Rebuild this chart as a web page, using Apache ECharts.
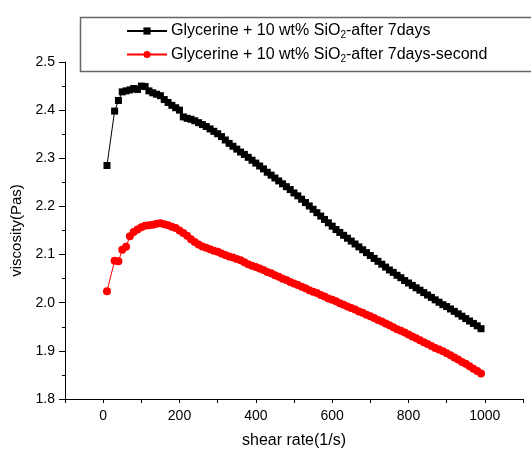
<!DOCTYPE html>
<html>
<head>
<meta charset="utf-8">
<script src="https://cdn.jsdelivr.net/npm/echarts@6/dist/echarts.min.js"></script>
<style>
  html, body { margin: 0; padding: 0; background: #fff; }
  #chart { width: 531px; height: 450px; }
</style>
</head>
<body>
<div id="chart"></div>
<script>
// shear rate (1/s)
const shearRate = [10, 30, 40, 50, 60, 70, 80, 90, 100, 110, 120, 130, 140, 150, 160, 170, 180, 190, 200,
  210, 220, 230, 240, 250, 260, 270, 280, 290, 300, 310, 320, 330, 340, 350, 360, 370, 380, 390, 400,
  410, 420, 430, 440, 450, 460, 470, 480, 490, 500, 510, 520, 530, 540, 550, 560, 570, 580, 590, 600,
  610, 620, 630, 640, 650, 660, 670, 680, 690, 700, 710, 720, 730, 740, 750, 760, 770, 780, 790, 800,
  810, 820, 830, 840, 850, 860, 870, 880, 890, 900, 910, 920, 930, 940, 950, 960, 970, 980, 990]

// viscosity (Pas) - after 7days
const visc7days = [2.285, 2.398, 2.420, 2.438, 2.440, 2.442, 2.445, 2.443, 2.450, 2.449, 2.440, 2.436, 2.433, 2.430, 2.422, 2.416, 2.410, 2.405, 2.400,
  2.386, 2.383, 2.381, 2.378, 2.374, 2.370, 2.366, 2.361, 2.356, 2.351, 2.345, 2.338, 2.331, 2.325, 2.319, 2.313, 2.308, 2.302, 2.296, 2.290,
  2.284, 2.278, 2.271, 2.265, 2.259, 2.253, 2.247, 2.241, 2.235, 2.228, 2.222, 2.215, 2.208, 2.201, 2.194, 2.187, 2.180, 2.173, 2.166, 2.159,
  2.152, 2.146, 2.140, 2.134, 2.128, 2.122, 2.116, 2.110, 2.104, 2.098, 2.092, 2.086, 2.080, 2.074, 2.068, 2.063, 2.057, 2.052, 2.046, 2.041,
  2.036, 2.031, 2.026, 2.021, 2.016, 2.011, 2.006, 2.001, 1.996, 1.992, 1.987, 1.982, 1.977, 1.972, 1.967, 1.962, 1.957, 1.952, 1.946]

// viscosity (Pas) - after 7days, second run
const visc7daysSecond = [2.024, 2.087, 2.086, 2.110, 2.116, 2.138, 2.147, 2.152, 2.157, 2.160, 2.161, 2.162, 2.164, 2.165, 2.163, 2.161, 2.158, 2.155, 2.150,
  2.145, 2.139, 2.132, 2.126, 2.121, 2.117, 2.114, 2.111, 2.108, 2.106, 2.102, 2.099, 2.096, 2.094, 2.091, 2.088, 2.084, 2.080, 2.077, 2.074,
  2.071, 2.068, 2.064, 2.061, 2.057, 2.054, 2.050, 2.047, 2.043, 2.040, 2.037, 2.033, 2.030, 2.026, 2.023, 2.020, 2.016, 2.013, 2.009, 2.006,
  2.003, 1.999, 1.996, 1.992, 1.989, 1.986, 1.982, 1.979, 1.975, 1.972, 1.968, 1.964, 1.961, 1.957, 1.953, 1.949, 1.945, 1.942, 1.938, 1.934,
  1.930, 1.926, 1.922, 1.918, 1.914, 1.910, 1.906, 1.903, 1.899, 1.895, 1.891, 1.886, 1.882, 1.877, 1.873, 1.868, 1.863, 1.858, 1.853]

const seriesNames = ['Glycerine + 10 wt% SiO2-after 7days', 'Glycerine + 10 wt% SiO2-after 7days-second']

const font = '"Liberation Sans", Arial, sans-serif'
const pair = (xs, ys) => xs.map((x, i) => [x, ys[i]])

let myChart = echarts.init(document.getElementById('chart'))

myChart.setOption({
  animation: false,
  backgroundColor: '#fff',
  textStyle: { fontFamily: font },
  grid: { left: 65, right: 8, top: 62, bottom: 51, outerBoundsMode: 'none', containLabel: false },
  graphic: [{
    type: 'rect', left: 78, top: 15, z: 100,
    shape: { width: 470, height: 54 },
    style: { fill: 'none', stroke: '#666', lineWidth: 1.5 }
  }],
  legend: {
    orient: 'vertical', left: 121, top: 18, itemGap: 6,
    itemWidth: 40, itemHeight: 9,
    data: seriesNames,
    formatter: name => name.replace('SiO2', 'SiO{sub|2}'),
    textStyle: {
      fontFamily: font, fontSize: 16, color: '#000', padding: [0, 0, 0, -1],
      rich: { sub: { fontFamily: font, fontSize: 10, color: '#000', verticalAlign: 'bottom', padding: [9, 0, 0, 0] } }
    }
  },
  xAxis: {
    type: 'value', min: -100, max: 1100, interval: 100,
    name: 'shear rate(1/s)', nameLocation: 'middle', nameGap: 34,
    nameTextStyle: { fontFamily: font, fontSize: 16, color: '#000' },
    axisLine: { onZero: false, lineStyle: { color: '#000', width: 1 } },
    axisTick: { length: 4, lineStyle: { color: '#000' } },
    axisLabel: {
      fontFamily: font, fontSize: 14, color: '#000', margin: 10,
      formatter: v => (v % 200 === 0 && v >= 0 && v <= 1000) ? String(v) : ''
    },
    splitLine: { show: false }
  },
  yAxis: {
    type: 'value', min: 1.8, max: 2.5, interval: 0.1,
    name: 'viscosity(Pas)', nameLocation: 'middle', nameGap: 40,
    nameTextStyle: { fontFamily: font, fontSize: 15, color: '#000' },
    axisLine: { show: true, onZero: false, lineStyle: { color: '#000', width: 1 } },
    axisTick: { show: true, length: 6, lineStyle: { color: '#000' } },
    minorTick: { show: true, splitNumber: 2, length: 3, lineStyle: { color: '#000' } },
    axisLabel: { fontFamily: font, fontSize: 14, color: '#000', margin: 10, formatter: v => v.toFixed(1) },
    splitLine: { show: false }
  },
  series: [{
    name: seriesNames[0], type: 'line',
    data: pair(shearRate, visc7days),
    symbol: 'rect', symbolSize: 7, showSymbol: true,
    itemStyle: { color: '#000' },
    lineStyle: { color: '#000', width: 1 }
  }, {
    name: seriesNames[1], type: 'line',
    data: pair(shearRate, visc7daysSecond),
    symbol: 'circle', symbolSize: 8, showSymbol: true,
    itemStyle: { color: '#ff0000' },
    lineStyle: { color: '#ff0000', width: 1 }
  }]
})
</script>
</body>
</html>
